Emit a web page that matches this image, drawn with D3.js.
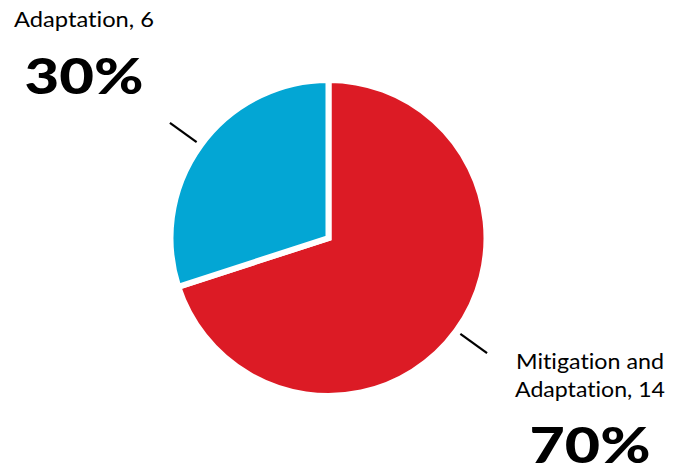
<!DOCTYPE html>
<html>
<head>
<meta charset="utf-8">
<script src="https://cdn.jsdelivr.net/npm/d3@7"></script>
<style>
  html, body { margin: 0; padding: 0; background: #fff; }
  svg { display: block; }
  text { font-family: Lato, "Open Sans", sans-serif; fill: #000; font-variant-ligatures: none; }
</style>
</head>
<body>
<svg id="chart" width="682" height="470"></svg>
<script>
// Funding categories and project counts
const categories = ["Mitigation and Adaptation", "Adaptation"];
const counts = [14, 6];
const percentLabels = ["70%", "30%"];
const colors = ["#DC1B25", "#03A6D4"];

const width = 682, height = 470;
const cx = 328.5, cy = 238, radius = 158;

const svg = d3.select("#chart");

const pie = d3.pie().sort(null).value(d => d)(counts);
const arc = d3.arc().innerRadius(0).outerRadius(radius);

const g = svg.append("g").attr("transform", `translate(${cx},${cy})`);

g.selectAll("path.slice")
  .data(pie)
  .join("path")
  .attr("class", "slice")
  .attr("d", arc)
  .attr("fill", (d, i) => colors[i])
  .attr("stroke", "#fff")
  .attr("stroke-width", 6)
  .attr("stroke-linejoin", "miter");

// Leader ticks along each slice's mid-angle
const r0 = 163, r1 = 196;
const mid = d => (d.startAngle + d.endAngle) / 2;
g.selectAll("line.leader")
  .data(pie)
  .join("line")
  .attr("class", "leader")
  .attr("x1", d => r0 * Math.sin(mid(d)))
  .attr("y1", d => -r0 * Math.cos(mid(d)))
  .attr("x2", d => r1 * Math.sin(mid(d)))
  .attr("y2", d => -r1 * Math.cos(mid(d)))
  .attr("stroke", "#000")
  .attr("stroke-width", 2.2);

// Category labels: name + count, then the share in heavy type
const labelSpecs = [
  { x: 590, nameBase: 369, lineStep: 28, nameWidths: [148, 150], pctBase: 463, pctWidth: 121 },
  { x: 84, nameBase: 27, lineStep: 28, nameWidths: [140], pctBase: 94, pctWidth: 119 }
];

labelSpecs.forEach((spec, i) => {
  const nameLines = (categories[i] + ", " + counts[i]).split(/(?<=and) /);
  nameLines.forEach((ln, j) => {
    svg.append("text")
      .attr("x", spec.x)
      .attr("y", spec.nameBase + j * spec.lineStep)
      .attr("text-anchor", "middle")
      .attr("font-size", 21.5)
      .attr("font-weight", 400)
      .attr("textLength", spec.nameWidths[j])
      .attr("lengthAdjust", "spacingAndGlyphs")
      .text(ln);
  });
  svg.append("text")
    .attr("x", spec.x)
    .attr("y", spec.pctBase)
    .attr("text-anchor", "middle")
    .attr("font-size", 49)
    .attr("font-weight", 900)
    .attr("textLength", spec.pctWidth)
    .attr("lengthAdjust", "spacingAndGlyphs")
    .text(percentLabels[i]);
});
</script>
</body>
</html>
